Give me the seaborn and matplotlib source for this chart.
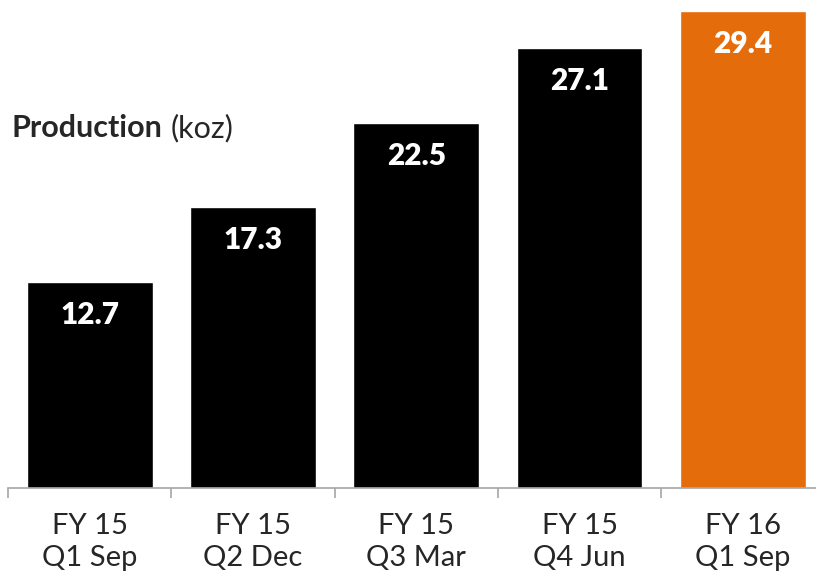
import matplotlib
matplotlib.use("Agg")
import matplotlib.pyplot as plt
import seaborn as sns
import pandas as pd

categories = ["FY 15\nQ1 Sep", "FY 15\nQ2 Dec", "FY 15\nQ3 Mar", "FY 15\nQ4 Jun", "FY 16\nQ1 Sep"]
production = [12.7, 17.3, 22.5, 27.1, 29.4]
bar_colors = ["#000000", "#000000", "#000000", "#000000", "#E46C0A"]

sns.set_style("white")
plt.rcParams["font.family"] = ["Lato", "DejaVu Sans"]

df = pd.DataFrame({"quarter": categories, "koz": production})

fig = plt.figure(figsize=(8.16, 5.75), dpi=100)
W, H = 816, 575
left, right, bottom, top = 8, 824.5, 488, 0
ax = fig.add_axes([left / W, (H - bottom) / H, (right - left) / W, (bottom - top) / H])

sns.barplot(data=df, x="quarter", y="koz", hue="quarter", palette=bar_colors,
            width=0.77, legend=False, ax=ax, saturation=1)

px_per_unit = 16.22
ax.set_ylim(0, (bottom - top) / px_per_unit)
ax.set_xlim(-0.5, 4.5)

for i, v in enumerate(production):
    ax.annotate(f"{v:.1f}", xy=(i, v), xytext=(0, -33), textcoords="offset pixels",
                ha="center", va="center", color="white", fontsize=21.5, fontweight="heavy")

for s in ["top", "right", "left"]:
    ax.spines[s].set_visible(False)
ax.spines["bottom"].set_color("#A6A6A6")
ax.spines["bottom"].set_linewidth(1.2)
ax.set_yticks([])
ax.set_xlabel("")
ax.set_ylabel("")

ax.set_xticks(range(len(categories)))
ax.set_xticklabels(categories, fontsize=21, linespacing=1.3)
ax.tick_params(axis="x", which="major", bottom=True, length=0, pad=18)
ax.set_xticks([i - 0.5 for i in range(len(categories) + 1)], minor=True)
ax.tick_params(axis="x", which="minor", bottom=True, length=7, width=1.2,
               color="#A6A6A6", direction="out")

t1 = fig.text(12 / W, 1 - 128 / H, "Production", fontsize=22, fontweight="bold",
              va="center", ha="left")
fig.canvas.draw()
bb = t1.get_window_extent()
fig.text((bb.x1 + 8) / W, 1 - 128 / H, "(koz)", fontsize=22, va="center", ha="left")

fig.savefig("out.png", dpi=100)
